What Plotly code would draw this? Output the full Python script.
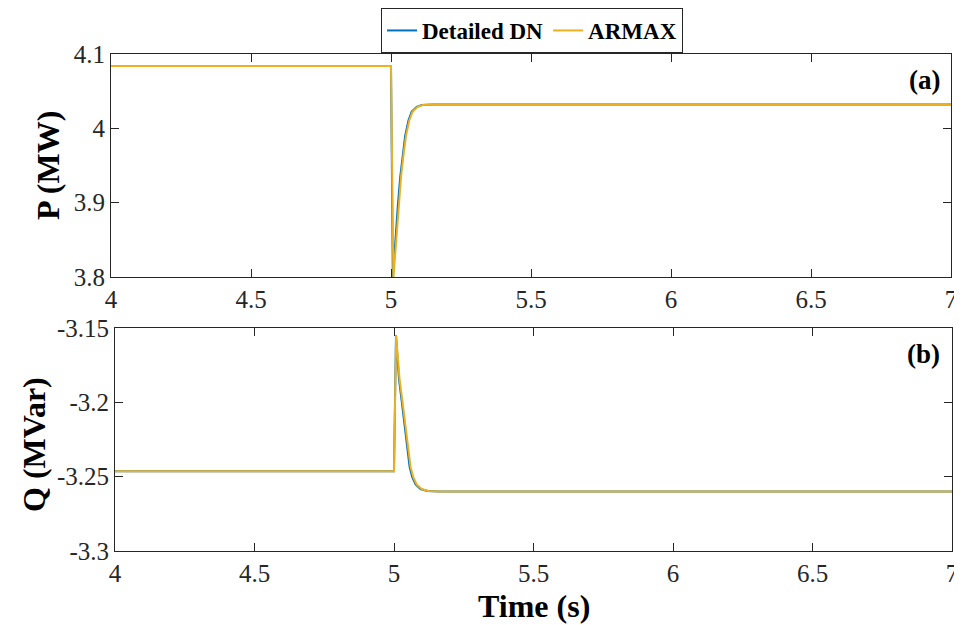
import plotly.graph_objects as go

# ---- data ----
t_dn_p = [4.0, 5.0, 5.0065, 5.015, 5.024, 5.033, 5.041, 5.0506, 5.0625, 5.074, 5.092,
          5.110, 5.147, 7.0]
p_dn = [4.084, 4.084, 3.798, 3.850, 3.894, 3.935, 3.962, 3.990, 4.011, 4.0224, 4.029,
        4.0314, 4.032, 4.032]
t_ar_p = [4.0, 5.0, 5.0085, 5.018, 5.027, 5.036, 5.044, 5.0536, 5.0655, 5.077, 5.095,
          5.113, 5.150, 7.0]
p_ar = [4.084, 4.084, 3.798, 3.850, 3.894, 3.935, 3.962, 3.990, 4.011, 4.0224, 4.029,
        4.0314, 4.032, 4.032]

t_dn_q = [4.0, 5.0, 5.0071, 5.0119, 5.0179, 5.0274, 5.0345, 5.0417, 5.0488, 5.056,
          5.0655, 5.0774, 5.0952, 5.119, 5.161, 7.0]
q_dn = [-3.2464, -3.2464, -3.1549, -3.1699, -3.1844, -3.1989, -3.2101, -3.2212, -3.2324,
        -3.2436, -3.2503, -3.2552, -3.2583, -3.2596, -3.2600, -3.2600]
t_ar_q = [4.0, 5.0, 5.0075, 5.0135, 5.0200, 5.0300, 5.0375, 5.0450, 5.0522, 5.0595,
          5.0692, 5.0812, 5.0990, 5.123, 5.165, 7.0]
q_ar = [-3.2464, -3.2464, -3.1549, -3.1699, -3.1844, -3.1989, -3.2101, -3.2212, -3.2324,
        -3.2436, -3.2503, -3.2552, -3.2583, -3.2596, -3.2600, -3.2600]

x_ticks = [4, 4.5, 5, 5.5, 6, 6.5, 7]
x_tick_labels = ["4", "4.5", "5", "5.5", "6", "6.5", "7"]
p_ticks = [3.8, 3.9, 4.0, 4.1]
p_tick_labels = ["3.8", "3.9", "4", "4.1"]
q_ticks = [-3.3, -3.25, -3.2, -3.15]
q_tick_labels = ["-3.3", "-3.25", "-3.2", "-3.15"]

BLUE = "#0072BD"
YELLOW = "#EDB120"
AX = "#262626"
FONT = "Liberation Serif, Times New Roman, Times, serif"

fig = go.Figure()
fig.add_trace(go.Scatter(x=t_dn_p, y=p_dn, mode="lines", name="Detailed DN",
                         line=dict(color=BLUE, width=2), xaxis="x", yaxis="y"))
fig.add_trace(go.Scatter(x=t_ar_p, y=p_ar, mode="lines", name="ARMAX",
                         line=dict(color=YELLOW, width=2), xaxis="x", yaxis="y"))
fig.add_trace(go.Scatter(x=t_dn_q, y=q_dn, mode="lines", name="Detailed DN",
                         line=dict(color=BLUE, width=2), xaxis="x2", yaxis="y2", showlegend=False))
fig.add_trace(go.Scatter(x=t_ar_q, y=q_ar, mode="lines", name="ARMAX",
                         line=dict(color=YELLOW, width=2), xaxis="x2", yaxis="y2", showlegend=False))

# page body adds an 8px offset
OFF = 8
W, H = 962 - OFF, 625 - OFF


def px(x):
    return (x - OFF) / W


def py(y):
    return 1 - (y - OFF) / H


common_axis = dict(showline=True, linecolor=AX, linewidth=1, mirror="ticks",
                   ticks="inside", ticklen=8, tickcolor=AX, tickwidth=1,
                   showgrid=False, zeroline=False, automargin=False,
                   tickfont=dict(family=FONT, size=25, color=AX))

title_font = dict(family=FONT, size=32, color="black")

fig.update_layout(
    width=W, height=H,
    margin=dict(l=0, r=0, t=0, b=0, autoexpand=False),
    plot_bgcolor="white", paper_bgcolor="white",
    font=dict(family=FONT, color="black"),
    xaxis=dict(domain=[px(111), px(951)], range=[4, 7], tickvals=x_ticks,
               ticktext=x_tick_labels, anchor="y", **common_axis),
    yaxis=dict(domain=[py(277), py(54)], range=[3.8, 4.1], tickvals=p_ticks,
               ticktext=p_tick_labels, anchor="x", **common_axis),
    xaxis2=dict(domain=[px(115), px(952)], range=[4, 7], tickvals=x_ticks,
                ticktext=x_tick_labels, anchor="y2", **common_axis),
    yaxis2=dict(domain=[py(551), py(328)], range=[-3.3, -3.15], tickvals=q_ticks,
                ticktext=q_tick_labels, anchor="x2", **common_axis),
    legend=dict(orientation="h", x=px(532), xanchor="center", y=1.0, yanchor="top",
                bordercolor=AX, borderwidth=1, bgcolor="white",
                font=dict(family=FONT, size=23, color="black", weight="bold"),
                itemwidth=30, tracegroupgap=0),
    annotations=[
        dict(text="<b>P (MW)</b>", x=px(48), y=py(166), xref="paper", yref="paper",
             textangle=-90, showarrow=False, xanchor="center", yanchor="middle",
             font=title_font),
        dict(text="<b>Q (MVar)</b>", x=px(34), y=py(445), xref="paper", yref="paper",
             textangle=-90, showarrow=False, xanchor="center", yanchor="middle",
             font=title_font),
        dict(text="<b>Time (s)</b>", x=px(534), y=py(606), xref="paper", yref="paper",
             showarrow=False, xanchor="center", yanchor="middle", font=title_font),
        dict(text="<b>(a)</b>", x=px(942), y=py(80), xref="paper", yref="paper",
             xanchor="right", yanchor="middle", showarrow=False,
             font=dict(family=FONT, size=27, color="black")),
        dict(text="<b>(b)</b>", x=px(942), y=py(354), xref="paper", yref="paper",
             xanchor="right", yanchor="middle", showarrow=False,
             font=dict(family=FONT, size=27, color="black")),
    ],
)

fig.write_html("out.html")
